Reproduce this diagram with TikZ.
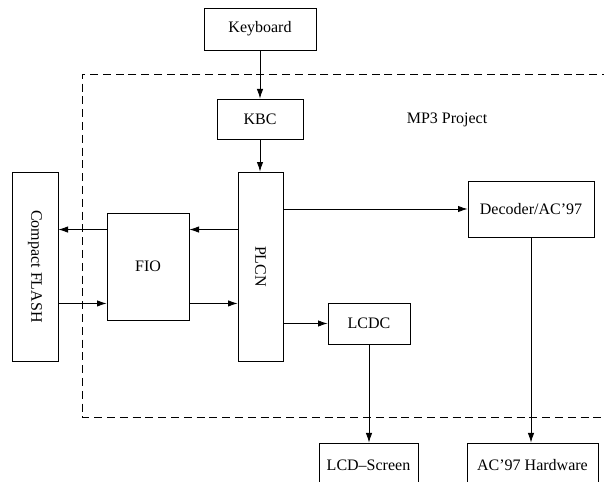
\documentclass[tikz,border=0pt]{standalone}
\usepackage{fontspec}
\setmainfont{Liberation Serif}
\usepackage{graphicx}
\usetikzlibrary{arrows.meta, positioning}

\begin{document}
\begin{tikzpicture}[x=0.625pt, y=-0.625pt,
    block/.style={draw, line width=0.5pt, inner sep=0pt, font=\normalsize},
    link/.style={line width=0.5pt, -{Latex[length=6pt, width=4pt]}}]
    \useasboundingbox (0,0) rectangle (604,482);

    % Project frame (open to the right)
    \draw[line width=0.5pt, dash pattern=on 5pt off 3pt] (610,74) -- (82,74) -- (82,417) -- (610,417);
    \node (title) at (447,120) {MP3 Project};

    % Outside blocks
    \node[block, minimum width=70pt, minimum height=26.25pt] (kbd) at (260,29) {Keyboard};
    \node[block, minimum width=28.75pt, minimum height=118.1pt] (cflash) at (35,266.5) {\rotatebox{-90}{Compact FLASH}};
    \node[block, minimum width=61.9pt, minimum height=27.5pt] (lcdscr) at (368.5,465) {LCD--Screen};
    \node[block, minimum width=81.9pt, minimum height=27.5pt] (achw) at (532.5,465) {AC'97 Hardware};

    % Project blocks
    \node[block, minimum width=53.75pt, minimum height=25pt] (kbc) at (260,119) {KBC};
    \node[block, minimum width=28.1pt, minimum height=118.1pt] (plcn) at (260.5,266.5) {\rotatebox{-90}{PLCN}};
    \node[block, minimum width=51.25pt, minimum height=66.9pt] (fio) at (148,266.5) {FIO};
    \node[block, minimum width=78.75pt, minimum height=35pt] (dec) at (531,209) {Decoder/AC'97};
    \node[block, minimum width=51.25pt, minimum height=25.6pt] (lcdc) at (369,323.5) {LCDC};

    % Keyboard path
    \draw[link] (kbd.south) -- (kbd.south |- kbc.north);
    \draw[link] (kbc.south) -- (kbc.south |- plcn.north);

    % Flash path
    \draw[link] ([yshift=23.1pt]plcn.west) -- ([yshift=23.1pt]fio.east);
    \draw[link] ([yshift=23.1pt]fio.west) -- ([yshift=23.1pt]cflash.east);
    \draw[link] ([yshift=-23.1pt]cflash.east) -- ([yshift=-23.1pt]fio.west);
    \draw[link] ([yshift=-23.1pt]fio.east) -- ([yshift=-23.1pt]plcn.west);

    % Audio and display
    \draw[link] (plcn.east |- dec.west) -- (dec.west);
    \draw[link] (plcn.east |- lcdc.west) -- (lcdc.west);
    \draw[link] (dec.south) -- (dec.south |- achw.north);
    \draw[link] (lcdc.south) -- (lcdc.south |- lcdscr.north);
\end{tikzpicture}
\end{document}
